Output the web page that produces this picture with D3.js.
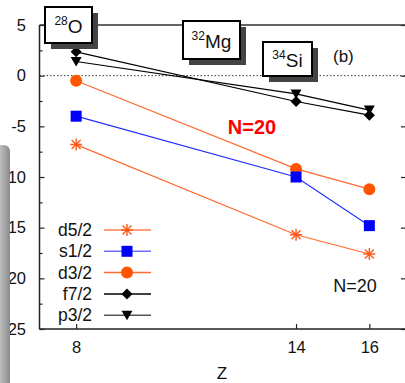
<!DOCTYPE html>
<html>
<head>
<meta charset="utf-8">
<script src="https://cdn.jsdelivr.net/npm/d3@7"></script>
<style>
  body { margin: 0; background: #fff; }
  svg { display: block; font-family: "Liberation Sans", Arial, sans-serif; }
</style>
</head>
<body>
<div id="chart-area"></div>
<script>

// SVG size
var width = 405,
    height = 383;

// Data
var zValues = [8, 14, 16];
var yTicks = [5, 0, -5, -10, -15, -20, -25];
var d52 = [-6.8, -15.7, -17.6];
var s12 = [-4.0, -10.0, -14.8];
var d32 = [-0.5, -9.2, -11.2];
var f72 = [2.35, -2.55, -3.9];
var p32 = [1.4, -1.8, -3.4];
var seriesNames = ["d5/2", "s1/2", "d3/2", "f7/2", "p3/2"];
var nucleiLabels = [["28", "O"], ["32", "Mg"], ["34", "Si"]];

var series = [
    {name: seriesNames[0], values: d52, color: "#ff5a1a", line: "#ff6a30", legendLine: "#ff8050", marker: "asterisk"},
    {name: seriesNames[1], values: s12, color: "#0000ff", line: "#2030ff", legendLine: "#7070ff", marker: "square"},
    {name: seriesNames[2], values: d32, color: "#ff5500", line: "#ff6a30", legendLine: "#ff6a30", marker: "circle"},
    {name: seriesNames[3], values: f72, color: "#000", line: "#000", legendLine: "#000", marker: "diamond"},
    {name: seriesNames[4], values: p32, color: "#000", line: "#000", legendLine: "#555", marker: "triangle"}
];

var svg = d3.select("#chart-area")
    .append("svg")
    .attr("width", width)
    .attr("height", height);

// Scales
var x = d3.scaleLinear().domain([7, 17]).range([39.5, 406]);
var y = d3.scaleLinear().domain([-25, 5]).range([329, 25]);

// Axes (frame with inward ticks)
var yAxis = d3.axisLeft(y).tickValues(yTicks).tickSize(-5).tickPadding(13.5)
    .tickFormat(d => d);
var yMinor = d3.axisLeft(y).tickValues(d3.range(-22.5, 5, 5)).tickSize(-3).tickFormat("");
var yRight = d3.axisRight(y).tickValues(yTicks).tickSize(-5).tickFormat("");
var xAxis = d3.axisBottom(x).tickValues(zValues).tickSize(-5).tickPadding(12);

var gy = svg.append("g").attr("class", "axis y-axis")
    .attr("transform", "translate(" + x(7) + ",0)")
    .call(yAxis);
svg.append("g").attr("transform", "translate(" + x(7) + ",0)").call(yMinor);
svg.append("g").attr("transform", "translate(" + x(17) + ",0)").call(yRight);
var gx = svg.append("g").attr("class", "axis x-axis")
    .attr("transform", "translate(0," + y(-25) + ")")
    .call(xAxis);

svg.selectAll(".domain").remove();
svg.selectAll(".tick line").attr("stroke", "#222").attr("stroke-width", 1.2);
svg.selectAll(".tick text").attr("font-size", 16.5).attr("fill", "#111")
    .attr("font-family", "Liberation Sans, Arial, sans-serif");

// frame lines
svg.append("line").attr("x1", x(7)).attr("x2", x(7)).attr("y1", y(5)).attr("y2", y(-25))
    .attr("stroke", "#222").attr("stroke-width", 1.5);
svg.append("line").attr("x1", x(7)).attr("x2", x(17)).attr("y1", y(-25)).attr("y2", y(-25))
    .attr("stroke", "#222").attr("stroke-width", 1.5);
svg.append("line").attr("x1", x(7)).attr("x2", x(17)).attr("y1", y(5)).attr("y2", y(5))
    .attr("stroke", "#333").attr("stroke-width", 1.5);

// zero line
svg.append("line").attr("x1", x(7)).attr("x2", x(17)).attr("y1", y(0)).attr("y2", y(0))
    .attr("stroke", "#333").attr("stroke-width", 1).attr("stroke-dasharray", "1.5,2");

// marker shapes
function markerPath(type) {
    if (type === "asterisk") return "M-6,0H6M0,-6V6M-4.5,-4.5L4.5,4.5M-4.5,4.5L4.5,-4.5";
    if (type === "square") return d3.symbol(d3.symbolSquare, 121)();
    if (type === "circle") return d3.symbol(d3.symbolCircle, 113)();
    if (type === "diamond") return "M0,-5.5L5.5,0L0,5.5L-5.5,0Z";
    return "M-5.5,-4.5L5.5,-4.5L0,5Z";
}

var line = d3.line()
    .x((d, i) => x(zValues[i]))
    .y(d => y(d));

// lines and markers
series.slice().reverse().forEach(function(s) {
    svg.append("path")
        .datum(s.values)
        .attr("d", line)
        .attr("fill", "none")
        .attr("stroke", s.line)
        .attr("stroke-width", 1.2);

    svg.selectAll(null)
        .data(s.values)
        .enter()
        .append("path")
        .attr("transform", (d, i) => "translate(" + x(zValues[i]) + "," + y(d) + ")")
        .attr("d", markerPath(s.marker))
        .attr("fill", s.marker === "asterisk" ? "none" : s.color)
        .attr("stroke", s.color)
        .attr("stroke-width", s.marker === "asterisk" ? 1.4 : 0);
});

// legend
var legend = svg.append("g").attr("class", "legend");
series.forEach(function(s, i) {
    var ly = 230 + i * 21.3;
    legend.append("text")
        .attr("x", 92).attr("y", ly + 6)
        .attr("text-anchor", "end")
        .attr("font-size", 17.5)
        .attr("fill", "#111")
        .text(s.name);
    legend.append("line")
        .attr("x1", 104).attr("x2", 151).attr("y1", ly).attr("y2", ly)
        .attr("stroke", s.legendLine).attr("stroke-width", 1.5);
    legend.append("path")
        .attr("transform", "translate(127," + ly + ")")
        .attr("d", markerPath(s.marker))
        .attr("fill", s.marker === "asterisk" ? "none" : s.color)
        .attr("stroke", s.color)
        .attr("stroke-width", s.marker === "asterisk" ? 1.4 : 0);
});

// nucleus boxes with shadows
var boxes = [
    {x: 45, y: 7, w: 47, h: 36},
    {x: 183, y: 21, w: 57, h: 38},
    {x: 263, y: 42, w: 49, h: 34}
];
boxes.forEach(function(b, i) {
    svg.append("rect").attr("x", b.x + 6).attr("y", b.y + 6)
        .attr("width", b.w).attr("height", b.h).attr("fill", "#444");
    svg.append("rect").attr("x", b.x).attr("y", b.y)
        .attr("width", b.w).attr("height", b.h)
        .attr("fill", "#fff").attr("stroke", "#000").attr("stroke-width", 2);
    var t = svg.append("text")
        .attr("x", b.x + b.w / 2).attr("y", b.y + b.h / 2 + 8)
        .attr("text-anchor", "middle")
        .attr("fill", "#111");
    t.append("tspan").attr("font-size", 12).attr("dy", -8).text(nucleiLabels[i][0]);
    t.append("tspan").attr("font-size", 19).attr("dy", 8).text(nucleiLabels[i][1]);
});

svg.append("text")
    .attr("x", 333).attr("y", 62)
    .attr("font-size", 17).attr("fill", "#111")
    .text("(b)");

svg.append("text")
    .attr("x", 252).attr("y", 134)
    .attr("text-anchor", "middle")
    .attr("font-size", 20).attr("font-weight", "bold")
    .attr("fill", "#ff0000")
    .text("N=20");

svg.append("text")
    .attr("x", 355).attr("y", 292)
    .attr("text-anchor", "middle")
    .attr("font-size", 18).attr("fill", "#111")
    .text("N=20");

svg.append("text")
    .attr("x", 222).attr("y", 379)
    .attr("text-anchor", "middle")
    .attr("font-size", 17).attr("fill", "#111")
    .text("Z");

// gray shadow strip on the left edge, lying over the tick labels
var defs = svg.append("defs");
var grad = defs.append("linearGradient").attr("id", "strip").attr("x1", 0).attr("x2", 1);
grad.append("stop").attr("offset", "0%").attr("stop-color", "#e8e8e8");
grad.append("stop").attr("offset", "60%").attr("stop-color", "#b4b4b4");
grad.append("stop").attr("offset", "100%").attr("stop-color", "#8a8a8a");
svg.append("rect")
    .attr("x", -10).attr("y", 145)
    .attr("width", 20).attr("height", 260)
    .attr("rx", 6)
    .attr("fill", "url(#strip)");

</script>
</body>
</html>
